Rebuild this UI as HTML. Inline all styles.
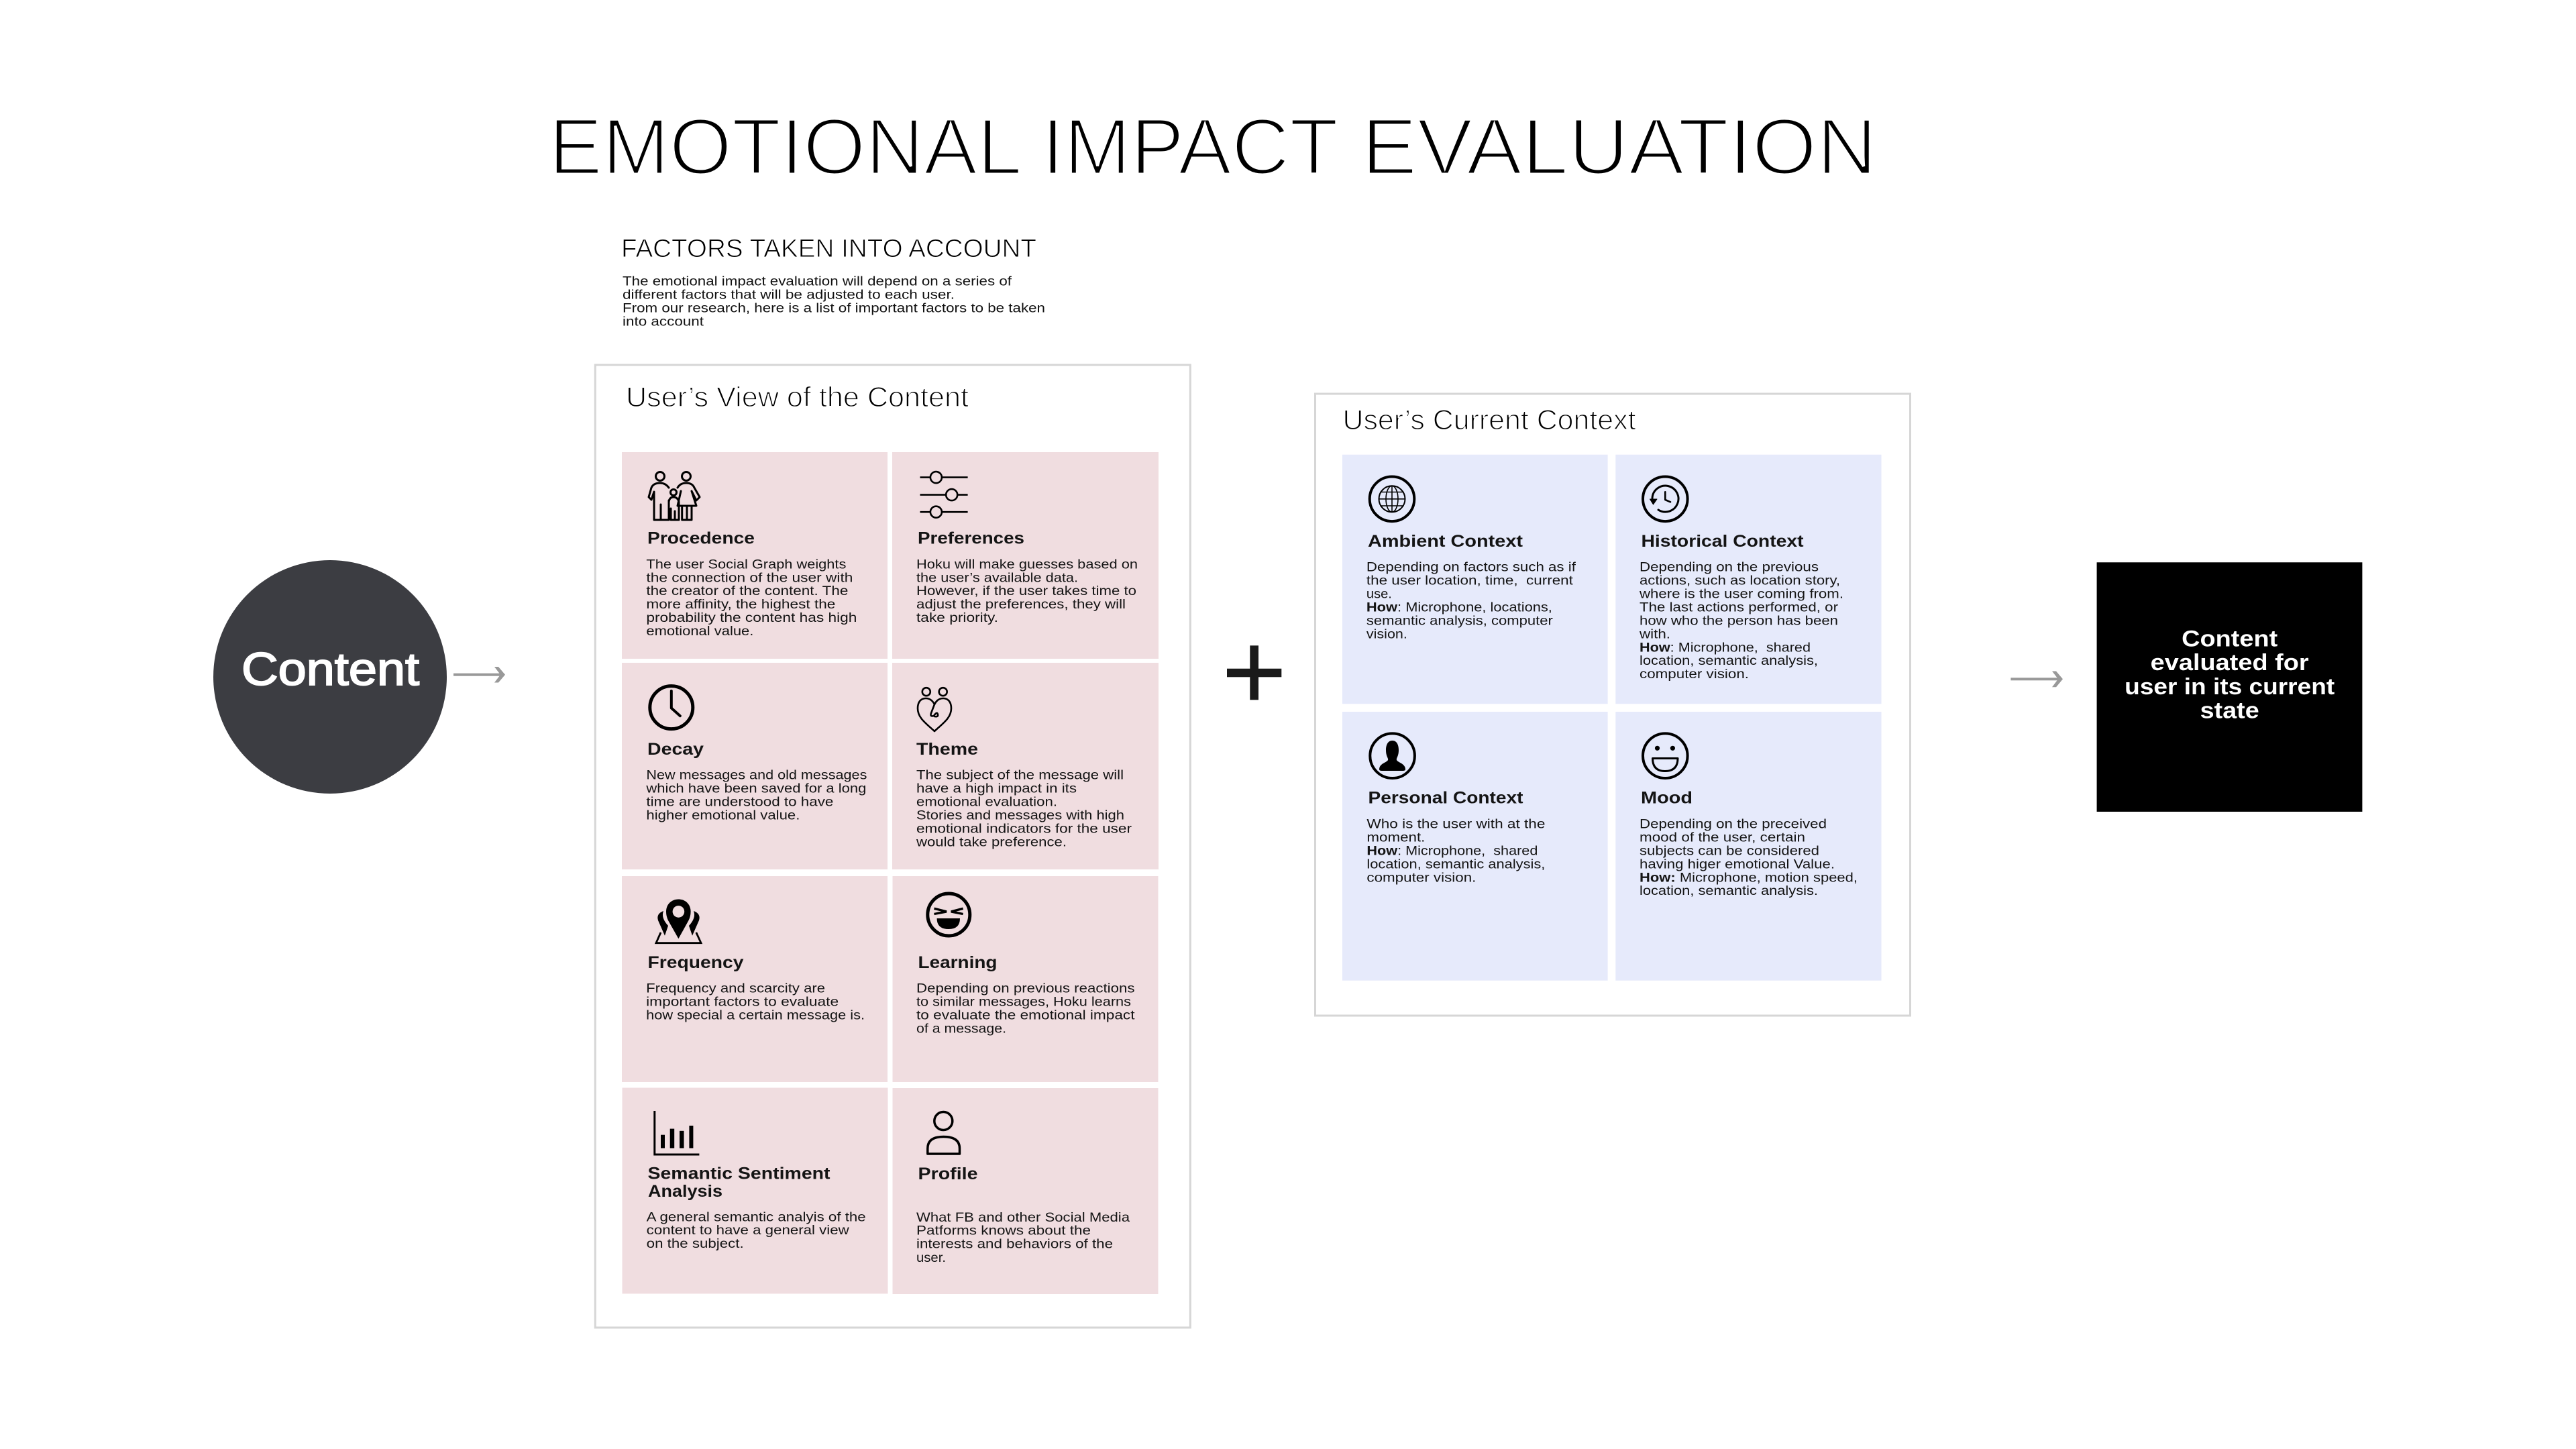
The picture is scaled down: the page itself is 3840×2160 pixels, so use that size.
<!DOCTYPE html>
<html lang="en">
<head>
<meta charset="utf-8">
<title>Emotional Impact Evaluation</title>
<style>
html,body{margin:0;padding:0;background:#fff;width:3840px;height:2160px;overflow:hidden}
svg{display:block}
text{font-family:"Liberation Sans",sans-serif;white-space:pre}
.title{font-size:119px;fill:#000;stroke:#fff;stroke-width:4px}
.sec{font-size:38px;fill:#000;stroke:#fff;stroke-width:1px}
.par{font-size:19px;fill:#111}
.pt{font-size:42px;fill:#000;stroke:#fff;stroke-width:1.4px}
.h{font-size:25px;font-weight:bold;fill:#141414}
.b{font-size:19.5px;fill:#141414}
.k{font-size:19.5px;font-weight:bold}
.ic{fill:none;stroke:#000;stroke-linecap:round;stroke-linejoin:round}
.blk{font-size:34px;font-weight:bold;fill:#fff;text-anchor:middle}
</style>
</head>
<body>
<svg width="3840" height="2160" viewBox="0 0 3840 2160" xmlns="http://www.w3.org/2000/svg">
<rect x="0" y="0" width="3840" height="2160" fill="#fff"/>

<text class="title" y="259.3"><tspan x="818" textLength="705.5" lengthAdjust="spacingAndGlyphs">EMOTIONAL</tspan><tspan x="1553" textLength="442" lengthAdjust="spacingAndGlyphs">IMPACT</tspan><tspan x="2029.6" textLength="768.4" lengthAdjust="spacingAndGlyphs">EVALUATION</tspan></text>

<g>
<text class="sec" x="926" y="382.8" textLength="619" lengthAdjust="spacingAndGlyphs">FACTORS TAKEN INTO ACCOUNT</text>
<text class="par" x="928" y="425.7" textLength="580" lengthAdjust="spacingAndGlyphs">The emotional impact evaluation will depend on a series of</text>
<text class="par" x="928" y="445.7" textLength="495" lengthAdjust="spacingAndGlyphs">different factors that will be adjusted to each user.</text>
<text class="par" x="928" y="465.7" textLength="630" lengthAdjust="spacingAndGlyphs">From our research, here is a list of important factors to be taken</text>
<text class="par" x="928" y="485.7" textLength="121" lengthAdjust="spacingAndGlyphs">into account</text>
</g>

<g>
<circle cx="492" cy="1009" r="174" fill="#3c3d42"/>
<text x="360" y="1021" font-size="69" fill="#fff" stroke="#fff" stroke-width="2" textLength="265" lengthAdjust="spacingAndGlyphs">Content</text>
</g>
<g>
<rect x="676" y="1003.7" width="72" height="4" fill="#999"/>
<polygon points="737,994 743,994 753,1005.7 743,1017.5 737,1017.5 746,1005.7" fill="#999"/>
</g>

<g>
<rect x="887.3" y="544" width="887" height="1435" fill="#fff" stroke="#d6d6d6" stroke-width="3"/>
<text class="pt" x="933" y="605.8" textLength="511" lengthAdjust="spacingAndGlyphs">User’s View of the Content</text>

<g>
<rect x="927" y="674" width="396" height="308" fill="#f0dde0"/>
<g class="ic" stroke-width="3">
<circle cx="984" cy="710" r="6.5"/><circle cx="1023" cy="710" r="6.5"/><circle cx="1004" cy="734" r="4.5"/>
<path d="M997 727Q992 720 984 720Q974 720 971 727L967 741L971 745L975 733V775H997V746M985 752V775"/>
<path d="M1010 727Q1014 720 1023 720Q1032 720 1035 727L1043 741L1038 746L1031 732L1038 754H1010L1015 732M1016.7 754V775H1031V754M1024 754V775"/>
<path d="M997 748Q998 741 1004 741Q1010 741 1012 748V762M1000 758V775H1012V762M1006 762V775"/>
</g>
<text class="h" x="965" y="810.5" textLength="160" lengthAdjust="spacingAndGlyphs">Procedence</text>
<g>
<text class="b" x="963.4" y="847.3" textLength="298" lengthAdjust="spacingAndGlyphs">The user Social Graph weights</text>
<text class="b" x="963.4" y="867.3" textLength="308" lengthAdjust="spacingAndGlyphs">the connection of the user with</text>
<text class="b" x="963.4" y="887.2" textLength="301" lengthAdjust="spacingAndGlyphs">the creator of the content. The</text>
<text class="b" x="963.4" y="907.2" textLength="282" lengthAdjust="spacingAndGlyphs">more affinity, the highest the</text>
<text class="b" x="963.4" y="927" textLength="314" lengthAdjust="spacingAndGlyphs">probability the content has high</text>
<text class="b" x="963.4" y="947" textLength="160" lengthAdjust="spacingAndGlyphs">emotional value.</text>
</g>
</g>

<g>
<rect x="1330" y="674" width="397" height="308" fill="#f0dde0"/>
<g stroke="#000" stroke-width="2.6" fill="#f0dde0">
<path d="M1371.5 711.6H1442.6M1371.5 737.6H1442.6M1371.5 763.2H1442.6"/>
<circle cx="1395.4" cy="711.6" r="8.5"/><circle cx="1418.7" cy="737.6" r="8.5"/><circle cx="1395.4" cy="763.2" r="8.5"/>
</g>
<text class="h" x="1368" y="810.5" textLength="159" lengthAdjust="spacingAndGlyphs">Preferences</text>
<g>
<text class="b" x="1366" y="847.3" textLength="330" lengthAdjust="spacingAndGlyphs">Hoku will make guesses based on</text>
<text class="b" x="1366" y="867.3" textLength="241" lengthAdjust="spacingAndGlyphs">the user’s available data.</text>
<text class="b" x="1366" y="887.2" textLength="328" lengthAdjust="spacingAndGlyphs">However, if the user takes time to</text>
<text class="b" x="1366" y="907.2" textLength="312" lengthAdjust="spacingAndGlyphs">adjust the preferences, they will</text>
<text class="b" x="1366" y="927" textLength="122" lengthAdjust="spacingAndGlyphs">take priority.</text>
</g>
</g>

<g>
<rect x="927" y="988" width="396" height="308" fill="#f0dde0"/>
<g class="ic">
<circle cx="1000.8" cy="1054.6" r="32" stroke-width="5"/>
<path d="M1000.8 1030V1055.5L1013.8 1067.2" stroke-width="4"/>
</g>
<text class="h" x="965" y="1124.8" textLength="84" lengthAdjust="spacingAndGlyphs">Decay</text>
<g>
<text class="b" x="963.4" y="1161.7" textLength="329" lengthAdjust="spacingAndGlyphs">New messages and old messages</text>
<text class="b" x="963.4" y="1181.7" textLength="328" lengthAdjust="spacingAndGlyphs">which have been saved for a long</text>
<text class="b" x="963.4" y="1201.6" textLength="279" lengthAdjust="spacingAndGlyphs">time are understood to have</text>
<text class="b" x="963.4" y="1221.6" textLength="229" lengthAdjust="spacingAndGlyphs">higher emotional value.</text>
</g>
</g>

<g>
<rect x="1330" y="988" width="397" height="308" fill="#f0dde0"/>
<g class="ic" stroke-width="2.6">
<circle cx="1380.8" cy="1031.2" r="6"/><circle cx="1405.7" cy="1031.2" r="6"/>
<path d="M1393 1090C1380 1078 1368 1070 1368 1056C1368 1046 1373 1041 1380 1041C1387 1041 1391 1046 1393 1050C1395 1046 1399 1041 1406 1041C1413 1041 1418 1046 1418 1056C1418 1070 1406 1078 1393 1090Z"/>
<path d="M1393 1050L1388 1063Q1386 1069 1392 1067Q1397 1060 1398 1065Q1399 1069 1393 1068"/>
</g>
<text class="h" x="1366" y="1124.8" textLength="92" lengthAdjust="spacingAndGlyphs">Theme</text>
<g>
<text class="b" x="1366" y="1161.7" textLength="309" lengthAdjust="spacingAndGlyphs">The subject of the message will</text>
<text class="b" x="1366" y="1181.7" textLength="239" lengthAdjust="spacingAndGlyphs">have a high impact in its</text>
<text class="b" x="1366" y="1201.6" textLength="210" lengthAdjust="spacingAndGlyphs">emotional evaluation.</text>
<text class="b" x="1366" y="1221.6" textLength="310" lengthAdjust="spacingAndGlyphs">Stories and messages with high</text>
<text class="b" x="1366" y="1241.5" textLength="321" lengthAdjust="spacingAndGlyphs">emotional indicators for the user</text>
<text class="b" x="1366" y="1261.4" textLength="224" lengthAdjust="spacingAndGlyphs">would take preference.</text>
</g>
</g>

<g>
<rect x="927" y="1306" width="396" height="307" fill="#f0dde0"/>
<g>
<path d="M985 1390L978 1405.7H1045L1037.8 1390" fill="none" stroke="#000" stroke-width="2.8"/>
<path d="M991 1394.7L981 1372Q978 1362 989 1358Q985 1368 996 1380Z" fill="#000"/>
<path d="M1032 1394.7L1042 1372Q1045 1362 1034 1358Q1038 1368 1027 1380Z" fill="#000"/>
<path d="M1011.4 1399.3L996 1372Q993 1366 993 1358.9C993 1348 1001 1340.5 1011.4 1340.5C1021.6 1340.5 1029.6 1348 1029.6 1358.9Q1029.6 1366 1026.5 1372Z" fill="#000"/>
<circle cx="1011.4" cy="1358.9" r="8.8" fill="#f0dde0"/>
</g>
<text class="h" x="965.5" y="1442.9" textLength="143" lengthAdjust="spacingAndGlyphs">Frequency</text>
<g>
<text class="b" x="963.1" y="1479.6" textLength="267" lengthAdjust="spacingAndGlyphs">Frequency and scarcity are</text>
<text class="b" x="963.1" y="1499.4" textLength="287" lengthAdjust="spacingAndGlyphs">important factors to evaluate</text>
<text class="b" x="963.1" y="1519.6" textLength="326" lengthAdjust="spacingAndGlyphs">how special a certain message is.</text>
</g>
</g>

<g>
<rect x="1330.5" y="1306" width="396" height="307" fill="#f0dde0"/>
<g>
<circle cx="1414.3" cy="1363.5" r="31.5" fill="none" stroke="#000" stroke-width="5"/>
<path d="M1392.5 1354.3L1411 1358.9L1392.5 1362.5M1435.6 1354.3L1417.8 1358.9L1435.6 1362.5" fill="none" stroke="#000" stroke-width="3.4"/>
<path d="M1396.6 1369H1431Q1431 1385 1414 1385Q1396.6 1385 1396.6 1369Z" fill="#000"/>
</g>
<text class="h" x="1368.5" y="1442.9" textLength="118" lengthAdjust="spacingAndGlyphs">Learning</text>
<g>
<text class="b" x="1366" y="1479.6" textLength="325.5" lengthAdjust="spacingAndGlyphs">Depending on previous reactions</text>
<text class="b" x="1366" y="1499.4" textLength="320" lengthAdjust="spacingAndGlyphs">to similar messages, Hoku learns</text>
<text class="b" x="1366" y="1519.6" textLength="325.5" lengthAdjust="spacingAndGlyphs">to evaluate the emotional impact</text>
<text class="b" x="1366" y="1539.6" textLength="134" lengthAdjust="spacingAndGlyphs">of a message.</text>
</g>
</g>

<g>
<rect x="927.5" y="1621.5" width="396" height="307" fill="#f0dde0"/>
<g>
<path d="M975.8 1656V1721H1042.4" fill="none" stroke="#000" stroke-width="3"/>
<rect x="985" y="1691.7" width="6" height="19.8" fill="#000"/>
<rect x="998.7" y="1682.6" width="6.5" height="28.9" fill="#000"/>
<rect x="1013" y="1685.8" width="6.5" height="25.7" fill="#000"/>
<rect x="1027.4" y="1678" width="6" height="33.5" fill="#000"/>
</g>
<text class="h" x="965.5" y="1757.4" textLength="272" lengthAdjust="spacingAndGlyphs">Semantic Sentiment</text>
<text class="h" x="966" y="1784" textLength="111" lengthAdjust="spacingAndGlyphs">Analysis</text>
<g>
<text class="b" x="963.7" y="1820.3" textLength="327" lengthAdjust="spacingAndGlyphs">A general semantic analyis of the</text>
<text class="b" x="963.7" y="1840" textLength="302" lengthAdjust="spacingAndGlyphs">content to have a general view</text>
<text class="b" x="963.7" y="1860.2" textLength="145" lengthAdjust="spacingAndGlyphs">on the subject.</text>
</g>
</g>

<g>
<rect x="1330.5" y="1622" width="396" height="307" fill="#f0dde0"/>
<g class="ic" stroke-width="3.5">
<circle cx="1406.3" cy="1671" r="13.5"/>
<path d="M1382.8 1720V1712Q1382.8 1694.5 1406.5 1694.5Q1430.5 1694.5 1430.5 1712V1720Z"/>
</g>
<text class="h" x="1368.5" y="1757.9" textLength="89" lengthAdjust="spacingAndGlyphs">Profile</text>
<g>
<text class="b" x="1366" y="1820.8" textLength="318" lengthAdjust="spacingAndGlyphs">What FB and other Social Media</text>
<text class="b" x="1366" y="1840.5" textLength="260" lengthAdjust="spacingAndGlyphs">Patforms knows about the</text>
<text class="b" x="1366" y="1860.7" textLength="293" lengthAdjust="spacingAndGlyphs">interests and behaviors of the</text>
<text class="b" x="1366" y="1880.9" textLength="44" lengthAdjust="spacingAndGlyphs">user.</text>
</g>
</g>
</g>

<g>
<rect x="1829" y="996.7" width="81.3" height="12.6" fill="#1a1a1a"/>
<rect x="1863.3" y="962.3" width="12.7" height="81" fill="#1a1a1a"/>
</g>

<g>
<rect x="1960.5" y="587" width="887" height="927" fill="#fff" stroke="#d6d6d6" stroke-width="3"/>
<text class="pt" x="2001.5" y="639.8" textLength="437" lengthAdjust="spacingAndGlyphs">User’s Current Context</text>

<g>
<rect x="2001" y="677.7" width="395.6" height="371.6" fill="#e6eafb"/>
<g class="ic">
<circle cx="2075" cy="743.8" r="33.3" stroke-width="4"/>
<circle cx="2075" cy="743.8" r="19.5" stroke-width="2"/>
<ellipse cx="2075" cy="743.8" rx="9" ry="19.5" stroke-width="1.6"/>
<path d="M2075 724.3V763.3M2055.5 743.8H2094.5M2058 733.5H2092M2058 754H2092" stroke-width="1.6"/>
</g>
<text class="h" x="2039" y="815" textLength="231" lengthAdjust="spacingAndGlyphs">Ambient Context</text>
<g>
<text class="b" x="2036.9" y="851.7" textLength="312" lengthAdjust="spacingAndGlyphs">Depending on factors such as if</text>
<text class="b" x="2036.9" y="871.7" textLength="308" lengthAdjust="spacingAndGlyphs">the user location, time,  current</text>
<text class="b" x="2036.9" y="891.3" textLength="38" lengthAdjust="spacingAndGlyphs">use.</text>
<text class="b" x="2036.9" y="911.3" textLength="277" lengthAdjust="spacingAndGlyphs"><tspan class="k">How</tspan>: Microphone, locations,</text>
<text class="b" x="2036.9" y="931.3" textLength="278" lengthAdjust="spacingAndGlyphs">semantic analysis, computer</text>
<text class="b" x="2036.9" y="951.3" textLength="61" lengthAdjust="spacingAndGlyphs">vision.</text>
</g>
</g>

<g>
<rect x="2408.3" y="677.7" width="396.2" height="371.6" fill="#e6eafb"/>
<g class="ic">
<circle cx="2482.3" cy="743.8" r="33.3" stroke-width="4"/>
<path d="M2463 743A19.5 19.5 0 1 1 2472 760" stroke-width="3"/>
<path d="M2482.3 733.3V745L2490 748.3" stroke-width="2.6"/>
<polygon points="2459.5,744 2470,744 2464.5,752" fill="#000" stroke="#000" stroke-width="1"/>
</g>
<text class="h" x="2446.5" y="815" textLength="242" lengthAdjust="spacingAndGlyphs">Historical Context</text>
<g>
<text class="b" x="2444" y="851.7" textLength="267" lengthAdjust="spacingAndGlyphs">Depending on the previous</text>
<text class="b" x="2444" y="871.7" textLength="299" lengthAdjust="spacingAndGlyphs">actions, such as location story,</text>
<text class="b" x="2444" y="891.3" textLength="304" lengthAdjust="spacingAndGlyphs">where is the user coming from.</text>
<text class="b" x="2444" y="911.3" textLength="296" lengthAdjust="spacingAndGlyphs">The last actions performed, or</text>
<text class="b" x="2444" y="931.3" textLength="296" lengthAdjust="spacingAndGlyphs">how who the person has been</text>
<text class="b" x="2444" y="951.3" textLength="46" lengthAdjust="spacingAndGlyphs">with.</text>
<text class="b" x="2444" y="971.3" textLength="255" lengthAdjust="spacingAndGlyphs"><tspan class="k">How</tspan>: Microphone,  shared</text>
<text class="b" x="2444" y="991" textLength="266" lengthAdjust="spacingAndGlyphs">location, semantic analysis,</text>
<text class="b" x="2444" y="1011" textLength="163" lengthAdjust="spacingAndGlyphs">computer vision.</text>
</g>
</g>

<g>
<rect x="2001" y="1061" width="395.6" height="400.7" fill="#e6eafb"/>
<circle class="ic" cx="2075.6" cy="1126.7" r="33.3" stroke-width="4"/>
<path d="M2075.6 1104C2068 1104 2066 1112 2066 1118C2066 1128 2070 1130 2069 1133C2067 1137 2056 1138 2056 1147Q2056 1149 2060 1149H2091Q2095 1149 2095 1147C2095 1138 2084 1137 2082 1133C2081 1130 2085 1128 2085 1118C2085 1112 2083 1104 2075.6 1104Z" fill="#000"/>
<text class="h" x="2039.5" y="1197.3" textLength="231" lengthAdjust="spacingAndGlyphs">Personal Context</text>
<g>
<text class="b" x="2037.4" y="1234.3" textLength="266" lengthAdjust="spacingAndGlyphs">Who is the user with at the</text>
<text class="b" x="2037.4" y="1254.3" textLength="87" lengthAdjust="spacingAndGlyphs">moment.</text>
<text class="b" x="2037.4" y="1274.3" textLength="255" lengthAdjust="spacingAndGlyphs"><tspan class="k">How</tspan>: Microphone,  shared</text>
<text class="b" x="2037.4" y="1294.3" textLength="266" lengthAdjust="spacingAndGlyphs">location, semantic analysis,</text>
<text class="b" x="2037.4" y="1314.3" textLength="163" lengthAdjust="spacingAndGlyphs">computer vision.</text>
</g>
</g>

<g>
<rect x="2408.3" y="1061" width="396.2" height="400.7" fill="#e6eafb"/>
<g>
<circle cx="2482.3" cy="1126.7" r="33.3" fill="none" stroke="#000" stroke-width="4"/>
<circle cx="2470.5" cy="1115.3" r="3.6" fill="#000"/>
<circle cx="2493.4" cy="1115.3" r="3.6" fill="#000"/>
<path d="M2463.5 1130.5H2501Q2501 1149.5 2482 1149.5Q2463.5 1149.5 2463.5 1130.5Z" fill="none" stroke="#000" stroke-width="3" stroke-linejoin="round"/>
</g>
<text class="h" x="2446" y="1197.3" textLength="77" lengthAdjust="spacingAndGlyphs">Mood</text>
<g>
<text class="b" x="2444" y="1234.3" textLength="279" lengthAdjust="spacingAndGlyphs">Depending on the preceived</text>
<text class="b" x="2444" y="1254.3" textLength="247" lengthAdjust="spacingAndGlyphs">mood of the user, certain</text>
<text class="b" x="2444" y="1274.3" textLength="268" lengthAdjust="spacingAndGlyphs">subjects can be considered</text>
<text class="b" x="2444" y="1294.3" textLength="291" lengthAdjust="spacingAndGlyphs">having higer emotional Value.</text>
<text class="b" x="2444" y="1314.3" textLength="325" lengthAdjust="spacingAndGlyphs"><tspan class="k">How:</tspan> Microphone, motion speed,</text>
<text class="b" x="2444" y="1334" textLength="266" lengthAdjust="spacingAndGlyphs">location, semantic analysis.</text>
</g>
</g>
</g>

<g>
<rect x="2997.4" y="1010.3" width="72" height="4" fill="#999"/>
<polygon points="3059,1000.5 3065,1000.5 3075,1012.3 3065,1024.3 3059,1024.3 3068,1012.3" fill="#999"/>
</g>

<g>
<rect x="3125.6" y="838.3" width="395.8" height="371.7" fill="#000"/>
<text class="blk" x="3323.7" y="963.3" textLength="143" lengthAdjust="spacingAndGlyphs">Content</text>
<text class="blk" x="3323.7" y="999" textLength="236" lengthAdjust="spacingAndGlyphs">evaluated for</text>
<text class="blk" x="3323.7" y="1035" textLength="313" lengthAdjust="spacingAndGlyphs">user in its current</text>
<text class="blk" x="3323.7" y="1070.3" textLength="88" lengthAdjust="spacingAndGlyphs">state</text>
</g>
</svg>
</body>
</html>
